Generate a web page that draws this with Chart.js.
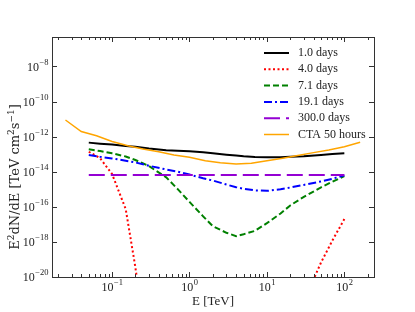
<!DOCTYPE html>
<html>
<head>
<meta charset="utf-8">
<script src="https://cdn.jsdelivr.net/npm/chart.js@4.4.1/dist/chart.umd.min.js"></script>
<style>
  html, body { margin: 0; padding: 0; background: #fff; }
</style>
</head>
<body>
<canvas id="sed" width="415" height="312"></canvas>
<script>
// energies (TeV) the model curves are sampled at
const energies = [0.05, 0.07, 0.1, 0.15, 0.2, 0.3, 0.5, 0.7, 1, 1.5, 2, 3, 4, 5, 7, 10, 15, 20, 30, 50, 70, 100];

// E^2 dN/dE in TeV cm^-2 s^-1, one array per epoch
const day1 = [4.57e-13, 3.98e-13, 3.55e-13, 2.95e-13, 2.63e-13, 2.09e-13, 1.70e-13, 1.58e-13, 1.45e-13, 1.29e-13, 1.12e-13,
              9.33e-14, 8.32e-14, 7.59e-14, 6.92e-14, 6.61e-14, 6.76e-14, 7.08e-14, 7.59e-14, 9.12e-14, 1.02e-13, 1.12e-13];
const day4 = [1.38e-13, 5.89e-14, 7.41e-15, 7.41e-17, 3.55e-20, 1e-25, null, null, null, null, null,
              null, null, null, null, null, null, null, 3.98e-22, 6.76e-20, 1.20e-18, 2.0e-17];
const day7 = [1.91e-13, 1.51e-13, 1.12e-13, 7.41e-14, 4.68e-14, 2.09e-14, 4.79e-15, 1.05e-15, 1.91e-16, 2.88e-17, 7.94e-18,
              3.31e-18, 2.14e-18, 2.75e-18, 4.27e-18, 1.17e-17, 4.17e-17, 1.20e-16, 3.72e-16, 1.29e-15, 2.69e-15, 5.62e-15];
const day19 = [8.91e-14, 7.08e-14, 5.75e-14, 4.27e-14, 3.39e-14, 2.19e-14, 1.35e-14, 1.02e-14, 6.92e-15, 4.27e-15, 3.16e-15,
               1.86e-15, 1.32e-15, 1.07e-15, 8.71e-16, 8.13e-16, 1.0e-15, 1.26e-15, 1.78e-15, 2.82e-15, 3.98e-15, 6.31e-15];
const day300 = energies.map(() => 6.5e-15);

// CTA 50 h sensitivity
const ctaEnergies = [0.025, 0.04, 0.063, 0.1, 0.16, 0.25, 0.4, 0.63, 1, 1.6, 2.5, 4, 6.3, 10, 16, 25, 40, 63, 100, 160];
const ctaSens = [8.91e-12, 1.95e-12, 1.12e-12, 5.25e-13, 3.02e-13, 2.0e-13, 1.38e-13, 8.91e-14, 6.61e-14, 4.27e-14,
                 3.24e-14, 2.75e-14, 3.02e-14, 4.27e-14, 5.89e-14, 8.32e-14, 1.23e-13, 1.74e-13, 2.69e-13, 4.79e-13];

const labels = ['1.0 days', '4.0 days', '7.1 days', '19.1 days', '300.0 days', 'CTA 50 hours'];
const xTicks = [0.1, 1, 10, 100];
const yTicks = [1e-20, 1e-18, 1e-16, 1e-14, 1e-12, 1e-10, 1e-8];

const pts = (xs, ys) => xs.map((x, i) => ({ x: x, y: ys[i] }));

const serif = '"Liberation Serif", "DejaVu Serif", serif';
const ink = '#222';

// draws "10" with a real raised exponent; align is 'right' or 'center'
function drawPow(ctx, v, x, y, align) {
    const e = Math.round(Math.log10(v));
    const exp = (e < 0 ? '\u2212' : '') + Math.abs(e);
    ctx.font = '12px ' + serif;
    const wb = ctx.measureText('10').width;
    ctx.font = '8.5px ' + serif;
    const we = ctx.measureText(exp).width;
    const start = align === 'right' ? x - wb - we : x - (wb + we) / 2;
    ctx.textAlign = 'left';
    ctx.textBaseline = 'middle';
    ctx.font = '12px ' + serif;
    ctx.fillText('10', start, y);
    ctx.font = '8.5px ' + serif;
    ctx.fillText(exp, start + wb + 0.5, y - 5);
}

// inward ticks on all four sides, frame and tick labels, like the matplotlib original
const frameTicks = {
    id: 'frameTicks',
    afterDraw(chart) {
        const { ctx, chartArea: a, scales: { x, y } } = chart;
        ctx.save();
        ctx.strokeStyle = '#333';
        ctx.lineWidth = 1;
        ctx.strokeRect(Math.round(a.left) + 0.5, Math.round(a.top) + 0.5,
                       Math.round(a.right - a.left), Math.round(a.bottom - a.top));
        ctx.beginPath();
        for (let d = -2; d <= 2; d++) {
            for (let m = 1; m <= 9; m++) {
                const v = m * Math.pow(10, d);
                if (v < x.min || v > x.max) continue;
                const px = Math.round(x.getPixelForValue(v)) + 0.5;
                const len = m === 1 ? 5 : 3;
                ctx.moveTo(px, a.bottom); ctx.lineTo(px, a.bottom - len);
                ctx.moveTo(px, a.top); ctx.lineTo(px, a.top + len);
            }
        }
        y.ticks.forEach(t => {
            const py = Math.round(y.getPixelForValue(t.value)) + 0.5;
            ctx.moveTo(a.left, py); ctx.lineTo(a.left + 5, py);
            ctx.moveTo(a.right, py); ctx.lineTo(a.right - 5, py);
        });
        ctx.stroke();

        ctx.fillStyle = ink;
        x.ticks.forEach(t => drawPow(ctx, t.value, x.getPixelForValue(t.value), a.bottom + 11, 'center'));
        y.ticks.forEach(t => drawPow(ctx, t.value, a.left - 4, y.getPixelForValue(t.value) + 1, 'right'));

        // y axis title with proper superscripts
        const parts = [['E', 0], ['2', 1], ['dN/dE [TeV cm', 0], ['2', 1], ['s', 0], ['\u22121', 1], [']', 0]];
        const big = '13px "DejaVu Serif", serif', small = '9px "DejaVu Serif", serif';
        let total = 0;
        parts.forEach(p => { ctx.font = p[1] ? small : big; total += ctx.measureText(p[0]).width; });
        ctx.translate(16, (a.top + a.bottom) / 2 + 20);
        ctx.rotate(-Math.PI / 2);
        ctx.textBaseline = 'middle';
        ctx.textAlign = 'left';
        let cx = -total / 2;
        parts.forEach(p => {
            ctx.font = p[1] ? small : big;
            ctx.fillText(p[0], cx, p[1] ? -4.5 : 0);
            cx += ctx.measureText(p[0]).width;
        });
        ctx.restore();
    }
};

// legend without frame, top right inside the axes
const lineLegend = {
    id: 'lineLegend',
    afterDraw(chart) {
        const { ctx, chartArea: a } = chart;
        const x0 = a.right - 110, y0 = a.top + 16, step = 16.3;
        ctx.save();
        ctx.font = '12px ' + serif;
        ctx.textBaseline = 'middle';
        chart.data.datasets.forEach((ds, i) => {
            const yy = y0 + i * step;
            ctx.strokeStyle = ds.borderColor;
            ctx.lineWidth = ds.borderWidth;
            ctx.setLineDash(ds.borderDash || []);
            ctx.beginPath();
            ctx.moveTo(x0, yy); ctx.lineTo(x0 + 25, yy);
            ctx.stroke();
            ctx.setLineDash([]);
            ctx.fillStyle = ink;
            ctx.fillText(ds.label, x0 + 34, yy);
        });
        ctx.restore();
    }
};

const common = { fill: false, pointRadius: 0, tension: 0, spanGaps: false };

new Chart(document.getElementById('sed'), {
    type: 'line',
    data: {
        datasets: [
            { ...common, label: labels[0], data: pts(energies, day1), borderColor: '#000000', borderWidth: 2, order: 6 },
            { ...common, label: labels[1], data: pts(energies, day4), borderColor: '#ff0000', borderWidth: 2, borderDash: [2, 2.5], order: 5 },
            { ...common, label: labels[2], data: pts(energies, day7), borderColor: '#008000', borderWidth: 2, borderDash: [6, 3], order: 4 },
            { ...common, label: labels[3], data: pts(energies, day19), borderColor: '#0000ff', borderWidth: 2, borderDash: [8, 3, 2, 3], order: 3 },
            { ...common, label: labels[4], data: pts(energies, day300), borderColor: '#9400d3', borderWidth: 2, borderDash: [16, 6], order: 2 },
            { ...common, label: labels[5], data: pts(ctaEnergies, ctaSens), borderColor: '#ffa500', borderWidth: 1.5, order: 1 }
        ]
    },
    options: {
        responsive: false,
        animation: false,
        events: [],
        layout: { padding: { left: 0, top: 37, right: 41, bottom: 0 } },
        plugins: { legend: { display: false }, tooltip: { enabled: false } },
        scales: {
            x: {
                type: 'logarithmic',
                min: 0.01675,
                max: 241.6,
                grid: { display: false, drawTicks: false },
                border: { display: false },
                afterBuildTicks: s => { s.ticks = xTicks.map(v => ({ value: v })); },
                afterFit: s => { s.height = 35; },
                ticks: { display: false },
                title: { display: true, text: 'E [TeV]', color: ink, padding: { top: 0, bottom: 3 },
                         font: { family: serif, size: 13 } }
            },
            y: {
                type: 'logarithmic',
                min: 1e-20,
                max: 4.8e-7,
                grid: { display: false, drawTicks: false },
                border: { display: false },
                afterBuildTicks: s => { s.ticks = yTicks.map(v => ({ value: v })); },
                afterFit: s => { s.width = 52; },
                ticks: { display: false },
                title: { display: false }
            }
        }
    },
    plugins: [frameTicks, lineLegend]
});
</script>
</body>
</html>
